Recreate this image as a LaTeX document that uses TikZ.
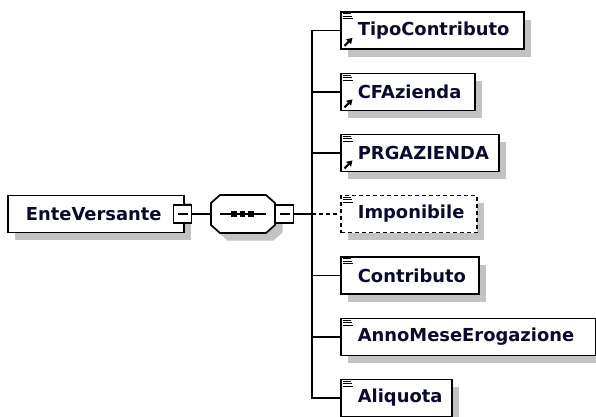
\documentclass[tikz,border=0pt]{standalone}
\usepackage{fontspec}
\setmainfont{DejaVu Sans}
\usetikzlibrary{shadows,arrows.meta}
\definecolor{shgray}{RGB}{195,195,195}
\definecolor{txt}{RGB}{10,10,45}
\begin{document}
\begin{tikzpicture}[x=1pt,y=-1pt,
  el/.style={draw=black, line width=1.7pt, fill=white, rectangle,
    minimum height=37pt, inner xsep=0pt, inner ysep=0pt, text width=#1,
    align=left, anchor=west, font=\fontsize{17.9}{20}\selectfont\bfseries, text=txt,
    general shadow={fill=shgray, draw=none, shadow xshift=7.5pt, shadow yshift=-7.5pt}},
  optel/.style={el=#1, dash pattern=on 4pt off 3pt},
  minibox/.style={draw=black, fill=white, line width=1.7pt, minimum size=18pt, inner sep=0pt,
    path picture={\draw[line width=1.6pt] ([xshift=4pt]path picture bounding box.west) -- ([xshift=-4pt]path picture bounding box.east);}},
  conn/.style={draw=black, line width=1.6pt},
  icon/.style={line width=1pt, black},
  refarrow/.style={line width=2.2pt, black, -{Triangle[length=5.5pt,width=6.5pt]}}
]
\useasboundingbox (0,0) rectangle (596,416);

% root element
\node[el=176] (ev) at (7,214) {\noindent\hspace*{18pt}EnteVersante};
\node[minibox] (evm) at (182.5,214) {};

% sequence compositor
\node[minimum width=64pt, minimum height=38pt, inner sep=0pt] (seq) at (243,214) {};
\fill[shgray] (227.5,202.5) -- (273.5,202.5) -- (282.5,210.5) -- (282.5,232.5) -- (273.5,240.5) -- (227.5,240.5) -- (218.5,232.5) -- (218.5,210.5) -- cycle;
\draw[line width=1.7pt, fill=white] (220,195) -- (266,195) -- (275,203) -- (275,225) -- (266,233) -- (220,233) -- (211,225) -- (211,203) -- cycle;
\draw[line width=1.6pt] (220,214) -- (266,214);
\foreach \xx in {234,242.5,251} \fill (\xx-2.8,211.2) rectangle (\xx+2.8,216.8);
\node[minibox] (seqm) at (284.5,214) {};

% children
\foreach \i/\yy/\ww/\tt in {1/30.5/183/TipoContributo, 2/92/134/CFAzienda, 3/153/158/PRGAZIENDA, 5/275.5/138/Contributo, 6/337/255/AnnoMeseErogazione, 7/398/111/Aliquota}
  \node[el=\ww] (c\i) at (340,\yy) {\noindent\hspace*{17pt}\tt};
\node[optel=136] (c4) at (340,214) {\noindent\hspace*{17pt}Imponibile};

% icons
\foreach \i in {1,...,7} {
  \foreach \dy/\len in {2.7/8, 5.3/8.5, 7.8/9.5}
    \draw[icon] ([shift={(3,\dy)}]c\i.north west) -- ++(\len,0);
}
\foreach \i in {1,2,3}
  \draw[refarrow] ([shift={(4.5,-4)}]c\i.south west) -- ++(8,-8);

% connectors
\draw[conn] (evm.east) -- (seq.west);
\coordinate (fork) at (312,214);
\draw[conn] (seqm.east) -- (fork);
\foreach \i in {1,2,3,5,6,7}
  \draw[conn] (fork) |- (c\i.west);
\draw[conn, dash pattern=on 4pt off 3pt] (fork) -- (c4.west);
\end{tikzpicture}
\end{document}
